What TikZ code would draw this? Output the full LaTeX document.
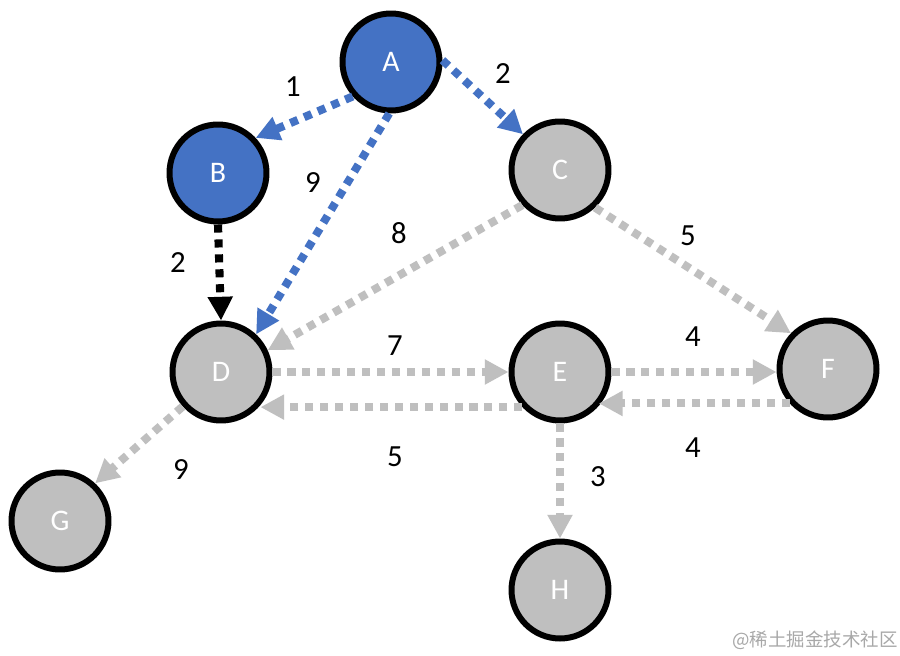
\documentclass[tikz,border=0pt]{standalone}
\usepackage{fontspec}
\setmainfont{Carlito}
\newfontfamily\cjk{Noto Sans CJK SC}
\usetikzlibrary{arrows.meta}
\definecolor{nblue}{HTML}{4472C4}
\definecolor{ngray}{HTML}{BFBFBF}
\definecolor{wmark}{HTML}{A8A8A8}
\begin{document}
\begin{tikzpicture}[x=0.02cm,y=-0.02cm,
  vtx/.style={circle,draw=black,line width=0.12cm,minimum size=1.94cm,inner sep=0pt,
    font=\fontsize{17}{20}\selectfont,text=white},
  bluevtx/.style={vtx,fill=nblue},
  grayvtx/.style={vtx,fill=ngray},
  edge/.style={line width=4.6pt,dash pattern=on 4.6pt off 3.9pt,
    -{Triangle[length=13.5pt,width=13.5pt]}},
  bedge/.style={edge,draw=nblue},
  gedge/.style={edge,draw=ngray},
  kedge/.style={edge,draw=black},
  wlabel/.style={font=\fontsize{17.5}{20}\selectfont,text=black}
]
\useasboundingbox (0,0) rectangle (900,656);
\fill[white] (0,0) rectangle (900,656);

\node[bluevtx] (A) at (391,62) {A};
\node[bluevtx] (B) at (218,173) {B};
\node[grayvtx] (C) at (560,170) {C};
\node[grayvtx] (D) at (221,372) {D};
\node[grayvtx] (E) at (560,372) {E};
\node[grayvtx] (F) at (828,369) {F};
\node[grayvtx] (G) at (60,521) {G};
\node[grayvtx] (H) at (560,590) {H};

\draw[bedge] (A.222) -- (B.43);
\draw[bedge] (A.2) -- (C.136);
\draw[bedge] (A.268) -- (D.47);
\draw[kedge] (B.south) -- (D.north);
\draw[gedge] (C.223) -- (D.25);
\draw[gedge] (C.-47) -- (F.136);
\draw[gedge] (D.east) -- (E.west);
\draw[gedge] (E.223) -- (D.-40 |- E.223);
\draw[gedge] (E.east) -- (E.east -| F.west);
\draw[gedge] (F.222) -- (E.-41 |- F.222);
\draw[gedge] (D.222) -- (G.47);
\draw[gedge] (E.south) -- (H.north);

\node[wlabel] (l1) at (293,87) {1};
\node[wlabel] (l2) at (503,74) {2};
\node[wlabel] (l3) at (313,183) {9};
\node[wlabel] (l4) at (399,233) {8};
\node[wlabel] (l5) at (688,236) {5};
\node[wlabel] (l6) at (178,263) {2};
\node[wlabel] (l7) at (395,346) {7};
\node[wlabel] (l8) at (693,337) {4};
\node[wlabel] (l9) at (395,457) {5};
\node[wlabel] (l10) at (693,448) {4};
\node[wlabel] (l11) at (181,470) {9};
\node[wlabel] (l12) at (598,477) {3};

\node[text=wmark,font=\cjk\fontsize{10.5}{12}\selectfont] (wm) at (815,640) {@稀土掘金技术社区};
\end{tikzpicture}
\end{document}
